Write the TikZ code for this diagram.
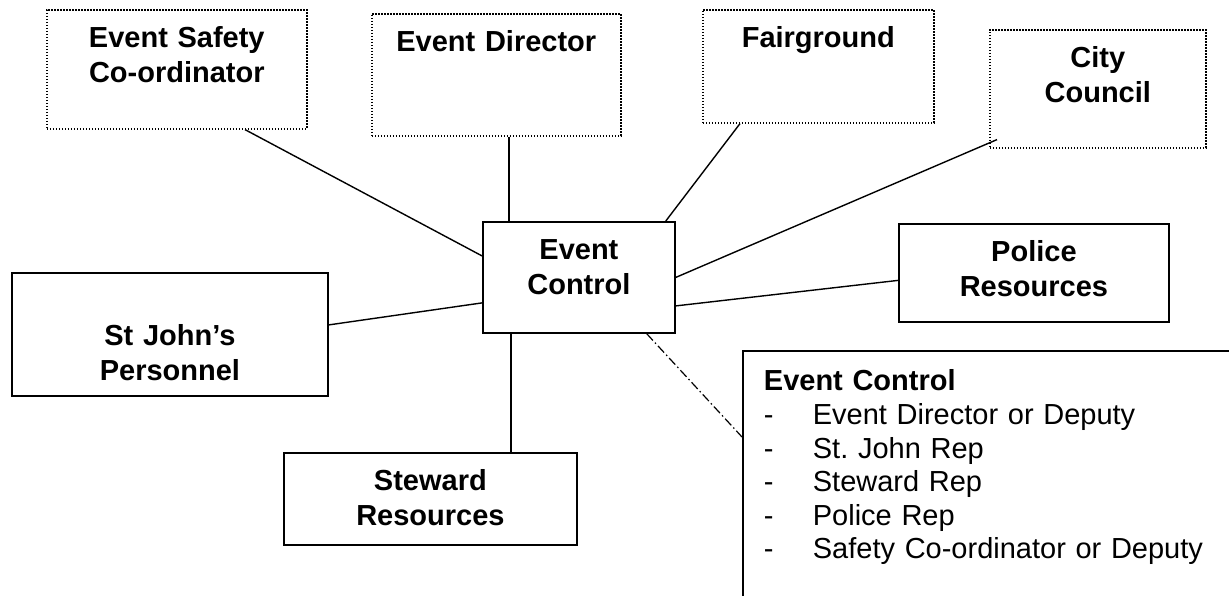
\documentclass[tikz,border=0pt]{standalone}
\usepackage{fontspec}
\setmainfont{Liberation Sans}
\frenchspacing

\begin{document}
\begin{tikzpicture}[
    x=1pt, y=-1pt,
    unit/.style={rectangle, draw, line width=1.8pt, inner sep=0pt, anchor=north west, align=center, text height=38pt, font=\fontsize{29pt}{35pt}\selectfont\bfseries},
    partner/.style={unit, line width=1.6pt, dash pattern=on 1.6pt off 1.4pt},
    memobox/.style={rectangle, draw, line width=1.8pt, inner xsep=21pt, inner ysep=0pt, anchor=north west, align=left, text width=600pt, text height=40pt, text depth=300pt, font=\fontsize{29pt}{33.6pt}\selectfont},
    link/.style={line width=1.4pt},
    memolink/.style={line width=1.2pt, dash pattern=on 9pt off 3pt on 1.5pt off 3pt}
]
\useasboundingbox (0,0) rectangle (1229,596);
\clip (0,0) rectangle (1229,596);

% Centre
\node[unit, text width=192pt, text depth=73pt] (ec) at (482,221) {Event\\Control};

% Top row - outside partners
\node[partner, text width=260pt, text depth=81pt] (safety) at (46,9) {Event Safety\\Co-ordinator};
\node[partner, text width=249pt, text depth=84pt] (director) at (371,13) {Event Director};
\node[partner, text width=231pt, text depth=75pt] (fair) at (702,9) {Fairground};
\node[partner, text width=216pt, text depth=80pt] (city) at (989,29) {City\\Council};

% Resources
\node[unit, text width=270pt, text depth=60pt] (police) at (898,223) {Police\\Resources};
\node[unit, text width=316pt, text depth=85pt] (stjohn) at (11,272) {\mbox{}\\St John’s\\Personnel};
\node[unit, text width=293pt, text depth=54pt] (steward) at (283,452) {Steward\\Resources};

% Event Control members
\node[memobox] (memo) at (742,350) {
    \textbf{Event Control}\\
    \makebox[49pt][l]{-}Event Director or Deputy\\
    \makebox[49pt][l]{-}St. John Rep\\
    \makebox[49pt][l]{-}Steward Rep\\
    \makebox[49pt][l]{-}Police Rep\\
    \makebox[49pt][l]{-}Safety Co-ordinator or Deputy
};

% Links
\draw[link] ([xshift=199pt]safety.south west) -- ([yshift=21.5pt]ec.west);
\draw[link] ([xshift=138pt]director.south west) -- ([xshift=27pt]ec.north west);
\draw[link] ([xshift=38pt]fair.south west) -- ([xshift=-10pt]ec.north east);
\draw[link] ([shift={(8pt,9pt)}]city.south west) -- (ec.east);
\draw[link] ([yshift=-7.5pt]police.west) -- ([yshift=-28.5pt]ec.east);
\draw[link] ([yshift=9.5pt]stjohn.east) -- ([yshift=-25.5pt]ec.west);
\draw[link] ([xshift=228pt]steward.north west) -- ([xshift=29pt]ec.south west);
\draw[memolink] ([xshift=-29pt]ec.south east) -- ([yshift=-87pt]memo.north west);

\end{tikzpicture}
\end{document}
